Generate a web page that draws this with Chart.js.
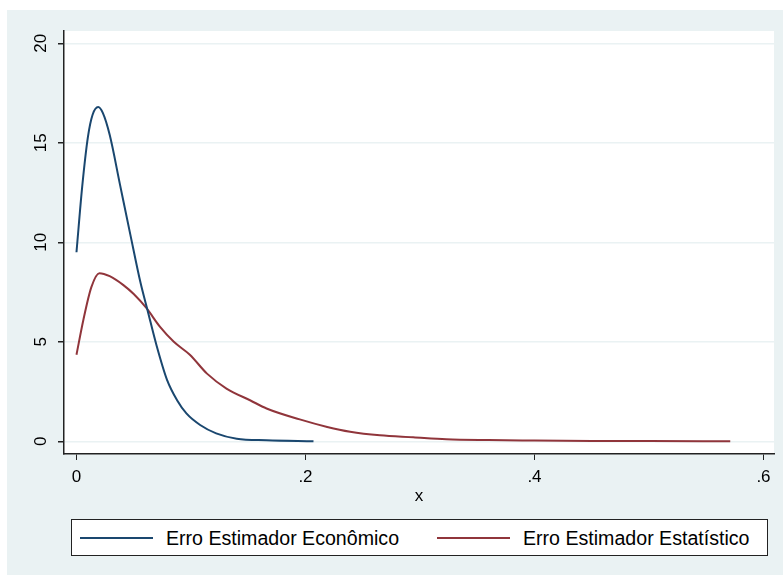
<!DOCTYPE html>
<html>
<head>
<meta charset="utf-8">
<script src="https://cdn.jsdelivr.net/npm/chart.js@4/dist/chart.umd.min.js"></script>
<style>
body { margin: 0; background: #fff; }
#wrap { position: relative; width: 783px; height: 575px; }
#leg { position: absolute; left: 71px; top: 519px; width: 695px; height: 35px; border: 1px solid #222; background: #fff;
       font: 19.6px 'Liberation Sans', Arial, sans-serif; color: #000; }
.leg-item { position: absolute; top: 0; height: 35px; line-height: 36px; white-space: nowrap; padding-left: 86px; }
.leg-line { position: absolute; left: 0; top: 17px; width: 73px; height: 2px; }
</style>
</head>
<body>
<div id="wrap">
  <canvas id="chart-dens" width="783" height="575"></canvas>
  <div id="leg"></div>
</div>
<script>
const NAVY   = '#1a476f';
const MAROON = '#90353b';
const BG     = '#eaf2f3';
const AXIS   = '#222';
const fontTick = { family: 'Liberation Sans', size: 17 };

const series = ['Erro Estimador Econômico', 'Erro Estimador Estatístico'];
const cores  = [NAVY, MAROON];

const xEcon = [0, 0.005, 0.010, 0.014, 0.019, 0.023, 0.029, 0.038, 0.047, 0.056, 0.062, 0.070, 0.079, 0.088, 0.096, 0.108, 0.122, 0.140, 0.166, 0.207];
const yEcon = [9.5, 12.8, 15.3, 16.4, 16.8, 16.5, 15.4, 12.9, 10.4, 7.95, 6.6, 4.8, 3.1, 2.05, 1.4, 0.82, 0.40, 0.13, 0.05, 0.0];

const xEstat = [0, 0.006, 0.013, 0.020, 0.029, 0.041, 0.050, 0.061, 0.073, 0.085, 0.099, 0.114, 0.131, 0.152, 0.166, 0.195, 0.219, 0.239, 0.265, 0.294, 0.323, 0.36, 0.40, 0.45, 0.50, 0.571];
const yEstat = [4.35, 6.1, 7.75, 8.45, 8.3, 7.85, 7.4, 6.7, 5.75, 5.0, 4.35, 3.4, 2.65, 2.05, 1.65, 1.1, 0.72, 0.48, 0.3, 0.2, 0.1, 0.06, 0.04, 0.02, 0.01, 0.0];

const xTicks = [0, 0.2, 0.4, 0.6];
const xTickLabels = ['0', '.2', '.4', '.6'];
const yTicks = [0, 5, 10, 15, 20];
const yTickLabels = ['0', '5', '10', '15', '20'];

const pts = (xs, ys) => xs.map((x, i) => ({ x: x, y: ys[i] }));

const fundo = {
  id: 'fundo',
  beforeDraw(c) {
    const ctx = c.ctx, a = c.chartArea;
    ctx.save();
    ctx.fillStyle = BG;
    ctx.fillRect(7, 10, 776, 565);
    ctx.fillStyle = '#fff';
    ctx.fillRect(a.left, a.top, a.right - a.left, a.bottom - a.top);
    ctx.restore();
  },
  afterDraw(c) {
    // rotated y labels, Stata style
    const ctx = c.ctx, y = c.scales.y;
    ctx.save();
    ctx.fillStyle = '#000';
    ctx.font = '17px "Liberation Sans"';
    ctx.textAlign = 'center';
    ctx.textBaseline = 'middle';
    yTicks.forEach((v, i) => {
      ctx.save();
      ctx.translate(41, y.getPixelForValue(v));
      ctx.rotate(-Math.PI / 2);
      ctx.fillText(yTickLabels[i], 0, 0);
      ctx.restore();
    });
    ctx.restore();
  }
};

new Chart(document.getElementById('chart-dens'), {
  type: 'line',
  data: {
    datasets: [
      { label: series[0], data: pts(xEcon, yEcon), borderColor: cores[0], borderWidth: 2, pointRadius: 0, cubicInterpolationMode: 'monotone', fill: false },
      { label: series[1], data: pts(xEstat, yEstat), borderColor: cores[1], borderWidth: 2, pointRadius: 0, cubicInterpolationMode: 'monotone', fill: false }
    ]
  },
  options: {
    responsive: false, animation: false, events: [],
    layout: { padding: { left: 0, right: 9, top: 31, bottom: 67 } },
    plugins: { legend: { display: false }, tooltip: { enabled: false } },
    scales: {
      x: {
        type: 'linear', min: -0.0109, max: 0.6092,
        afterBuildTicks: s => { s.ticks = xTicks.map(v => ({ value: v })); },
        afterFit: s => { s.height = 54; },
        grid: { color: 'transparent', tickColor: AXIS, tickLength: 6, drawTicks: true },
        border: { color: AXIS, width: 1.5 },
        ticks: { color: '#000', font: fontTick, padding: 7, maxRotation: 0, callback: (v, i) => xTickLabels[i] },
        title: { display: true, text: 'x', color: '#000', font: fontTick, padding: { top: 0, bottom: 1 } }
      },
      y: {
        type: 'linear', min: -0.638, max: 20.618,
        afterBuildTicks: s => { s.ticks = yTicks.map(v => ({ value: v })); },
        afterFit: s => { s.width = 64; },
        grid: { color: BG, lineWidth: 1.5, tickColor: AXIS, tickLength: 6, drawTicks: true },
        border: { color: AXIS, width: 1.5 },
        ticks: { color: 'transparent', font: fontTick, padding: 4, callback: (v, i) => yTickLabels[i] }
      }
    }
  },
  plugins: [fundo]
});

const leg = document.getElementById('leg');
const legLeft = [8, 365];
series.forEach((s, i) => {
  leg.innerHTML += `<span class="leg-item" style="left:${legLeft[i]}px"><span class="leg-line" style="background:${cores[i]}"></span>${s}</span>`;
});
</script>
</body>
</html>
